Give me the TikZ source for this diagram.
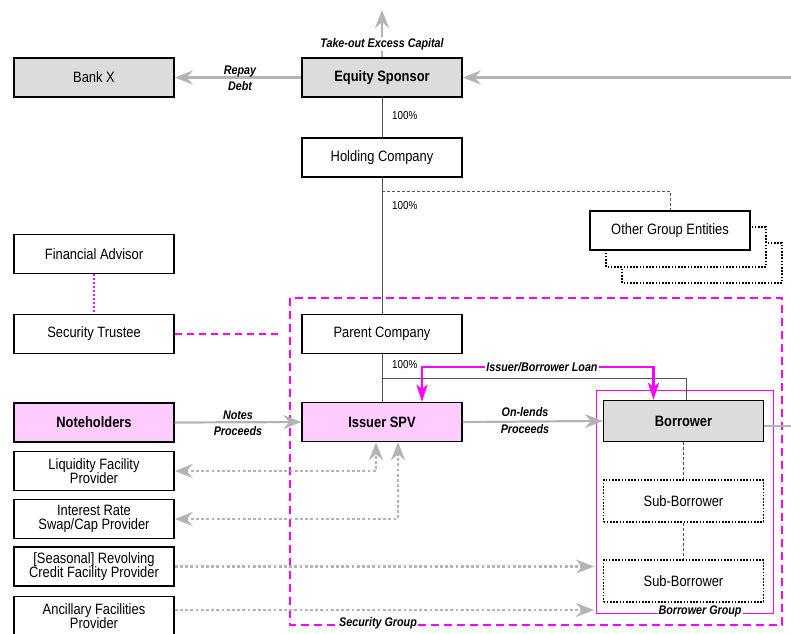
\documentclass[tikz,border=0pt]{standalone}
\usepackage{fontspec}
\setmainfont{Liberation Sans}[FakeStretch=0.86]
\usetikzlibrary{arrows.meta}
\definecolor{boxgray}{HTML}{DCDCDC}
\definecolor{boxpink}{HTML}{FFCCFF}
\definecolor{arrgray}{HTML}{B4B4B4}
\definecolor{mag}{HTML}{FF00FF}
\definecolor{linegray}{HTML}{555555}
\tikzset{
  gtip/.tip={Stealth[length=18pt,width=14pt,inset=6pt]},
  mtip/.tip={Stealth[length=17pt,width=11pt,inset=4pt]},
  box/.style={draw=black, line width=1.4pt, minimum width=160pt, minimum height=39pt, inner sep=0pt, align=center, font=\fontsize{15}{14.5}\selectfont},
  dotbox/.style={box, line width=1.8pt, dash pattern=on 1.6pt off 1.6pt},
  lbl/.style={font=\fontsize{12.5}{13}\selectfont\bfseries\itshape, inner sep=1pt},
  pct/.style={font=\fontsize{11.5}{12}\selectfont, inner sep=0pt},
  garrow/.style={draw=arrgray, line width=2.2pt, -{gtip}},
  gdot/.style={draw=arrgray, line width=2.8pt, dash pattern=on 2.8pt off 2.4pt},
  thinline/.style={draw=linegray, line width=1pt},
  thindash/.style={draw=linegray, line width=0.7pt, dash pattern=on 3pt off 2pt},
  magdash/.style={draw=mag, line width=2.2pt, dash pattern=on 8pt off 5pt},
}
\begin{document}
\begin{tikzpicture}[x=1pt,y=-1pt]
\useasboundingbox (0,0) rectangle (791,633);

% security group frame
\draw[magdash] (290,298) rectangle (782,625);
% borrower group frame
\draw[draw=mag, line width=1pt] (596,390) rectangle (773,613);

% nodes
\node[box, fill=boxgray] (bank) at (94,77.5) {Bank X};
\node[box, fill=boxgray, font=\fontsize{15}{14.5}\selectfont\bfseries] (equity) at (382,77.5) {Equity Sponsor};
\node[box, fill=white] (holding) at (382,157.5) {Holding Company};

\draw[black, line width=1.8pt, dash pattern=on 1.6pt off 1.6pt, fill=white] (622,243) rectangle (782,283);
\draw[black, line width=1.8pt, dash pattern=on 1.6pt off 1.6pt, fill=white] (606,227) rectangle (766,267);
\node[box, fill=white] (other) at (670,230.5) {Other Group Entities};

\node[box, fill=white] (finadv) at (94,254) {Financial Advisor};
\node[box, fill=white] (trustee) at (94,334) {Security Trustee};
\node[box, fill=white] (parent) at (382,334) {Parent Company};
\node[box, fill=boxpink, font=\fontsize{15}{14.5}\selectfont\bfseries] (issuer) at (382,422) {Issuer SPV};
\node[box, fill=boxpink, font=\fontsize{15}{14.5}\selectfont\bfseries] (notes) at (94,422.5) {Noteholders};
\node[box, fill=boxgray, font=\fontsize{15}{14.5}\selectfont\bfseries, minimum height=41pt] (borrower) at (683.5,421) {Borrower};
\node[dotbox, fill=white, minimum height=42pt] (sub1) at (683.5,501) {Sub-Borrower};
\node[dotbox, fill=white, minimum height=42pt] (sub2) at (683.5,581) {Sub-Borrower};
\node[box, fill=white] (liq) at (94,471) {Liquidity Facility\\Provider};
\node[box, fill=white] (swap) at (94,519) {Interest Rate\\Swap/Cap Provider};
\node[box, fill=white] (rcf) at (94,566.5) {[Seasonal] Revolving\\Credit Facility Provider};
\node[box, fill=white] (anc) at (94,616) {Ancillary Facilities\\Provider};

% coordinates
\coordinate (eR) at (791,77.5);
\coordinate (up) at (382,10);
\coordinate (hsplit) at (382,191);
\coordinate (psplit) at (382,378);
\coordinate (trEnd) at (282,334);
\coordinate (bR) at (791,426);
\coordinate (rcfEnd) at (594,566.5);
\coordinate (ancEnd) at (594,610);

% ownership lines
\draw[thinline] (equity) -- (holding);
\draw[thinline] (holding) -- (parent);
\draw[thinline] (parent) -- (issuer);
\draw[thinline] (psplit) -| ([xshift=2.5pt]borrower.north);
\draw[thindash] (hsplit) -| (other.north);
\node[pct, anchor=west] at (392,116) {100\%};
\node[pct, anchor=west] at (392,206) {100\%};
\node[pct, anchor=west] at (392,365) {100\%};

% gray flows
\draw[garrow] (eR) -- (equity.east);
\draw[garrow] (equity.north) -- (up);
\node[lbl, fill=white] at (382,44) {Take-out Excess Capital};
\draw[garrow] (equity.west) -- (bank.east);
\node[lbl] at (240,71) {Repay};
\node[lbl] at (240,86) {Debt};
\draw[garrow] (notes.east) -- (issuer.west);
\node[lbl] at (238,415) {Notes};
\node[lbl] at (238,431) {Proceeds};
\draw[garrow] (issuer.east) -- (borrower.west);
\node[lbl] at (525,412) {On-lends};
\node[lbl] at (525,429) {Proceeds};
\draw[draw=arrgray, line width=2.2pt] ([yshift=-5pt]borrower.east) -- (bR);

% dotted gray
\draw[gdot, {gtip}-{gtip}] (liq.east) -| ([xshift=-6pt]issuer.south);
\draw[gdot, {gtip}-{gtip}] (swap.east) -| ([xshift=16pt]issuer.south);
\draw[gdot, -{gtip}] (rcf.east) -- (rcfEnd);
\draw[gdot, -{gtip}] ([yshift=6pt]anc.east) -- (ancEnd);

% borrower group lines
\draw[thindash] (borrower.south) -- (sub1.north);
\draw[thindash] (sub1.south) -- (sub2.north);

% magenta
\draw[draw=mag, line width=2pt, dash pattern=on 2pt off 2pt] (finadv.south) -- (trustee.north);
\draw[draw=mag, line width=2pt, dash pattern=on 7pt off 5pt] (trustee.east) -- (trEnd);
\draw[draw=mag, line width=2.2pt, {mtip}-{mtip}]
  ([xshift=40pt]issuer.north) -- ++(0,-35) -| ([xshift=-30pt]borrower.north);
\node[lbl, fill=white] at (542,367) {Issuer/Borrower Loan};
\node[lbl, fill=white] at (378,623) {Security Group};
\node[lbl, fill=white] at (700,611) {Borrower Group};
\end{tikzpicture}
\end{document}
